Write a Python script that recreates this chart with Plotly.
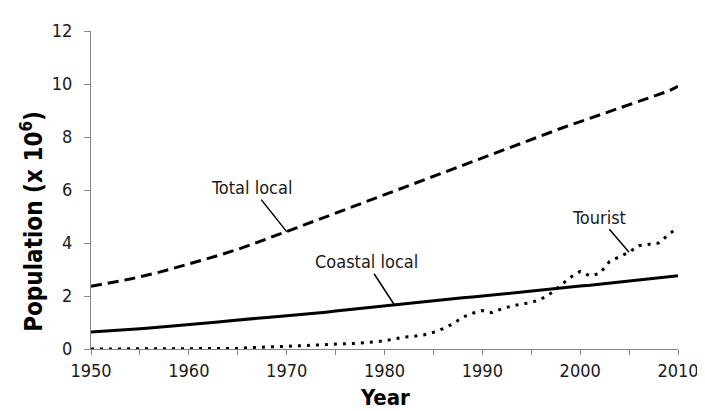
import plotly.graph_objects as go

years = list(range(1950, 2011))

total_local = [2.37, 2.43, 2.50, 2.57, 2.64, 2.72, 2.81, 2.90, 3.00, 3.10,
               3.21, 3.31, 3.42, 3.53, 3.64, 3.76, 3.89, 4.02, 4.15, 4.29,
               4.43, 4.57, 4.71, 4.85, 4.99, 5.13, 5.27, 5.41, 5.55, 5.69,
               5.83, 5.97, 6.11, 6.25, 6.39, 6.53, 6.67, 6.81, 6.95, 7.09,
               7.23, 7.37, 7.51, 7.65, 7.79, 7.93, 8.06, 8.19, 8.32, 8.45,
               8.58, 8.71, 8.84, 8.97, 9.10, 9.23, 9.36, 9.49, 9.61, 9.73,
               9.91]

coastal_local = [0.64, 0.66, 0.69, 0.71, 0.73, 0.76, 0.79, 0.82, 0.85, 0.88,
                 0.91, 0.95, 0.99, 1.02, 1.06, 1.10, 1.13, 1.16, 1.19, 1.22,
                 1.25, 1.29, 1.32, 1.36, 1.39, 1.43, 1.47, 1.51, 1.55, 1.59,
                 1.63, 1.67, 1.71, 1.75, 1.78, 1.82, 1.86, 1.89, 1.93, 1.96,
                 2.00, 2.04, 2.08, 2.12, 2.16, 2.20, 2.23, 2.27, 2.31, 2.34,
                 2.38, 2.41, 2.45, 2.48, 2.51, 2.55, 2.59, 2.63, 2.67, 2.71,
                 2.76]

tourist = [0.0, 0.0, 0.0, 0.0, 0.0, 0.0, 0.0, 0.0, 0.0, 0.0,
           0.0, 0.0, 0.0, 0.0, 0.0, 0.02, 0.05, 0.07, 0.08, 0.09,
           0.10, 0.12, 0.14, 0.16, 0.18, 0.19, 0.20, 0.21, 0.23, 0.27,
           0.31, 0.38, 0.45, 0.48, 0.53, 0.63, 0.77, 0.95, 1.20, 1.35,
           1.45, 1.37, 1.52, 1.62, 1.70, 1.75, 1.88, 2.10, 2.40, 2.70,
           2.93, 2.76, 2.85, 3.30, 3.48, 3.65, 3.90, 3.95, 4.00, 4.30,
           4.60]

labels = ["Total local", "Coastal local", "Tourist"]
label_years = [1970, 1981, 2005]

FONT = "DejaVu Sans Condensed, DejaVu Sans, sans-serif"
AXIS_GRAY = "#868686"
TEXT = "#1a1a1a"

fig = go.Figure()
fig.add_trace(go.Scatter(x=years, y=total_local, mode="lines", name=labels[0],
                         line=dict(color="black", width=3, dash="11px,6px")))
fig.add_trace(go.Scatter(x=years, y=coastal_local, mode="lines", name=labels[1],
                         line=dict(color="black", width=3)))
fig.add_trace(go.Scatter(x=years, y=tourist, mode="lines", name=labels[2],
                         line=dict(color="black", width=3, dash="3px,6px")))

series = [total_local, coastal_local, tourist]
offsets = [(-35, -44), (-28, -43), (-30, -35)]
for lab, yr, ser, (ax, ay) in zip(labels, label_years, series, offsets):
    fig.add_annotation(x=yr, y=ser[years.index(yr)], text=lab, showarrow=True,
                       arrowhead=0, arrowwidth=1.5, arrowcolor="black",
                       ax=ax, ay=ay, font=dict(family=FONT, size=18, color=TEXT))

fig.add_annotation(text="<b>Population (x 10<sup>6</sup>)</b>", textangle=-90,
                   xref="paper", yref="paper", x=0, y=0.40, xshift=-59,
                   xanchor="center", yanchor="middle",
                   showarrow=False, font=dict(family=FONT, size=24, color="black"))
fig.add_annotation(text="<b>Year</b>", xref="paper", yref="paper", x=0.5, y=0,
                   yshift=-48, xanchor="center", yanchor="middle", showarrow=False,
                   borderpad=0, font=dict(family=FONT, size=22, color="black"))

fig.update_layout(
    width=705, height=411,
    margin=dict(l=83, r=35, t=20, b=70),
    paper_bgcolor="white", plot_bgcolor="white",
    showlegend=False,
    font=dict(family=FONT, size=18, color=TEXT),
)
fig.update_xaxes(range=[1950, 2010], dtick=10, tick0=1950, showgrid=False,
                 zeroline=False, showline=True, linecolor=AXIS_GRAY, linewidth=1,
                 ticks="outside", ticklen=5, tickcolor=AXIS_GRAY,
                 ticklabelstandoff=0,
                 minor=dict(dtick=5, ticks="outside", ticklen=5, tickcolor=AXIS_GRAY),
                 tickfont=dict(family=FONT, size=18, color=TEXT))
fig.update_yaxes(range=[0, 12], dtick=2, showgrid=False, zeroline=False,
                 showline=True, linecolor=AXIS_GRAY, linewidth=1,
                 ticks="outside", ticklen=6, tickcolor=AXIS_GRAY,
                 ticklabelstandoff=8,
                 tickfont=dict(family=FONT, size=18, color=TEXT))

fig.write_html("out.html")
